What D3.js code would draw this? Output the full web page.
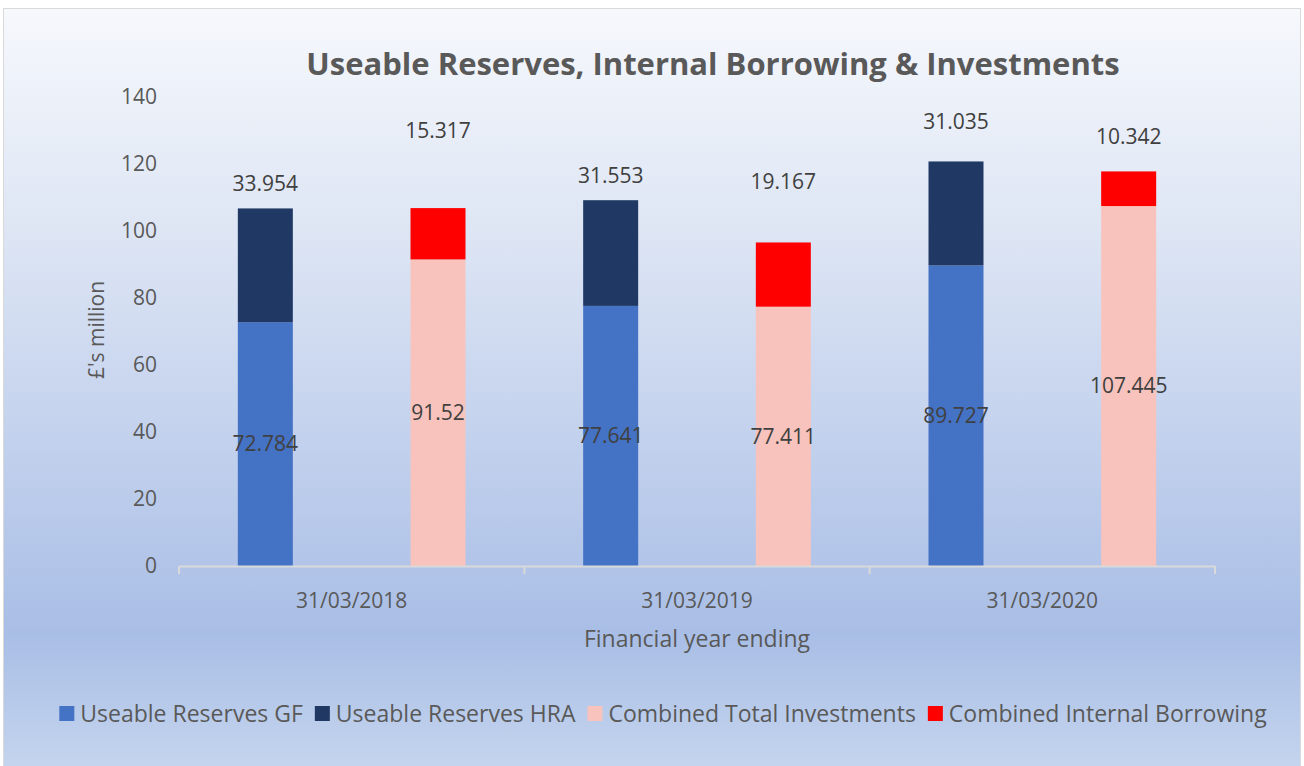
<!DOCTYPE html>
<html>
<head>
<meta charset="utf-8">
<script src="https://cdn.jsdelivr.net/npm/d3@7"></script>
<style>
    body { margin: 0; background: #ffffff; }
    svg text { font-family: "Open Sans", Lato, sans-serif; fill: #595959; }
</style>
</head>
<body>
<svg class="chart" width="1304" height="766"></svg>
<script>
var categories = ["31/03/2018", "31/03/2019", "31/03/2020"];
var reservesGF = [72.784, 77.641, 89.727];
var reservesHRA = [33.954, 31.553, 31.035];
var totalInvestments = [91.52, 77.411, 107.445];
var internalBorrowing = [15.317, 19.167, 10.342];
// the top labels sit where they were dragged to in the original, in axis units
var hraLabelAt = [114.0, 116.4, 132.5];
var borrowingLabelAt = [130.1, 114.6, 128.1];
var yTicks = [0, 20, 40, 60, 80, 100, 120, 140];

var colors = {
    gf: "#4472c4",
    hra: "#203864",
    inv: "#f8c3bc",
    borrow: "#ff0000"
};

var svg = d3.select("svg.chart");

var defs = svg.append("defs");
var grad = defs.append("linearGradient")
    .attr("id", "bg")
    .attr("x1", 0).attr("y1", 0).attr("x2", 0).attr("y2", 1);
grad.append("stop").attr("offset", "0%").attr("stop-color", "#f6f8fc");
grad.append("stop").attr("offset", "30%").attr("stop-color", "#dde5f4");
grad.append("stop").attr("offset", "82%").attr("stop-color", "#a9bee6");
grad.append("stop").attr("offset", "100%").attr("stop-color", "#c5d5ee");

svg.append("rect")
    .attr("x", 3.5).attr("y", 8.5)
    .attr("width", 1297).attr("height", 762)
    .attr("fill", "url(#bg)")
    .attr("stroke", "#d9d9d9");

var x = d3.scaleBand()
    .domain(categories)
    .range([179, 1215]);

var y = d3.scaleLinear()
    .domain([0, 140])
    .range([566, 97]);

var barW = 55;
var leftX = function (c) { return x(c) + x.bandwidth() * 0.25; };
var rightX = function (c) { return x(c) + x.bandwidth() * 0.75; };

// title
svg.append("text")
    .attr("x", 713)
    .attr("y", 75)
    .attr("text-anchor", "middle")
    .style("font-size", "31px")
    .style("font-weight", "bold")
    .text("Useable Reserves, Internal Borrowing & Investments");

// y axis labels (no line)
svg.append("g")
    .selectAll("text")
    .data(yTicks)
    .enter()
    .append("text")
    .attr("x", 157)
    .attr("y", function (d) { return y(d); })
    .attr("dy", "0.35em")
    .attr("text-anchor", "end")
    .style("font-size", "21px")
    .text(function (d) { return d; });

svg.append("text")
    .attr("transform", "translate(104," + 330 + ") rotate(-90)")
    .attr("text-anchor", "middle")
    .style("font-size", "21px")
    .text("£'s million");

// bars
var stacks = [
    { pos: leftX, base: function (i) { return 0; }, vals: reservesGF, color: colors.gf },
    { pos: leftX, base: function (i) { return reservesGF[i]; }, vals: reservesHRA, color: colors.hra },
    { pos: rightX, base: function (i) { return 0; }, vals: totalInvestments, color: colors.inv },
    { pos: rightX, base: function (i) { return totalInvestments[i]; }, vals: internalBorrowing, color: colors.borrow }
];

stacks.forEach(function (s) {
    svg.append("g")
        .selectAll("rect")
        .data(categories)
        .enter()
        .append("rect")
        .attr("x", function (c) { return s.pos(c) - barW / 2; })
        .attr("width", barW)
        .attr("y", function (c, i) { return y(s.base(i) + s.vals[i]); })
        .attr("height", function (c, i) { return y(s.base(i)) - y(s.base(i) + s.vals[i]); })
        .attr("fill", s.color);
});

// x axis
var xAxis = d3.axisBottom(x).tickSize(0).tickFormat("");
var axisG = svg.append("g")
    .attr("transform", "translate(0,566)")
    .call(xAxis);
axisG.select(".domain").attr("stroke", "#d9d9d9").attr("stroke-width", 2);
var bounds = categories.map(function (c) { return x(c); }).concat([x.range()[1]]);
axisG.selectAll("line.sep")
    .data(bounds)
    .enter()
    .append("line")
    .classed("sep", true)
    .attr("x1", function (d) { return d; })
    .attr("x2", function (d) { return d; })
    .attr("y1", 0)
    .attr("y2", 8)
    .attr("stroke", "#d9d9d9")
    .attr("stroke-width", 2);

svg.append("g")
    .selectAll("text")
    .data(categories)
    .enter()
    .append("text")
    .attr("x", function (c) { return x(c) + x.bandwidth() / 2; })
    .attr("y", 608)
    .attr("text-anchor", "middle")
    .style("font-size", "21px")
    .text(function (c) { return c; });

svg.append("text")
    .attr("x", 697)
    .attr("y", 647)
    .attr("text-anchor", "middle")
    .style("font-size", "23px")
    .text("Financial year ending");

// data labels
var labelSize = "21px";
var labelFill = "#404040";
function addLabels(posFn, yFn, vals) {
    svg.append("g")
        .selectAll("text")
        .data(categories)
        .enter()
        .append("text")
        .attr("x", function (c) { return posFn(c); })
        .attr("y", function (c, i) { return yFn(i); })
        .attr("dy", "0.35em")
        .attr("text-anchor", "middle")
        .style("font-size", labelSize)
        .style("fill", labelFill)
        .text(function (c, i) { return vals[i]; });
}
addLabels(leftX, function (i) { return y(reservesGF[i] / 2); }, reservesGF);
addLabels(rightX, function (i) { return y(totalInvestments[i] / 2); }, totalInvestments);
addLabels(leftX, function (i) { return y(hraLabelAt[i]); }, reservesHRA);
addLabels(rightX, function (i) { return y(borrowingLabelAt[i]); }, internalBorrowing);

// legend
var legendItems = [
    { name: "Useable Reserves GF", color: colors.gf },
    { name: "Useable Reserves HRA", color: colors.hra },
    { name: "Combined Total Investments", color: colors.inv },
    { name: "Combined Internal Borrowing", color: colors.borrow }
];
var legend = svg.append("g");
var lx = 0;
legendItems.forEach(function (item) {
    var g = legend.append("g").attr("transform", "translate(" + lx + ",0)");
    g.append("rect")
        .attr("x", 0).attr("y", -8)
        .attr("width", 15).attr("height", 15)
        .attr("fill", item.color);
    var t = g.append("text")
        .attr("x", 21)
        .attr("y", 0)
        .attr("dy", "0.35em")
        .style("font-size", "23px")
        .text(item.name);
    lx += 21 + t.node().getComputedTextLength() + 12;
});
var legendW = lx - 12;
legend.attr("transform", "translate(" + (663 - legendW / 2) + ",714)");
</script>
</body>
</html>
